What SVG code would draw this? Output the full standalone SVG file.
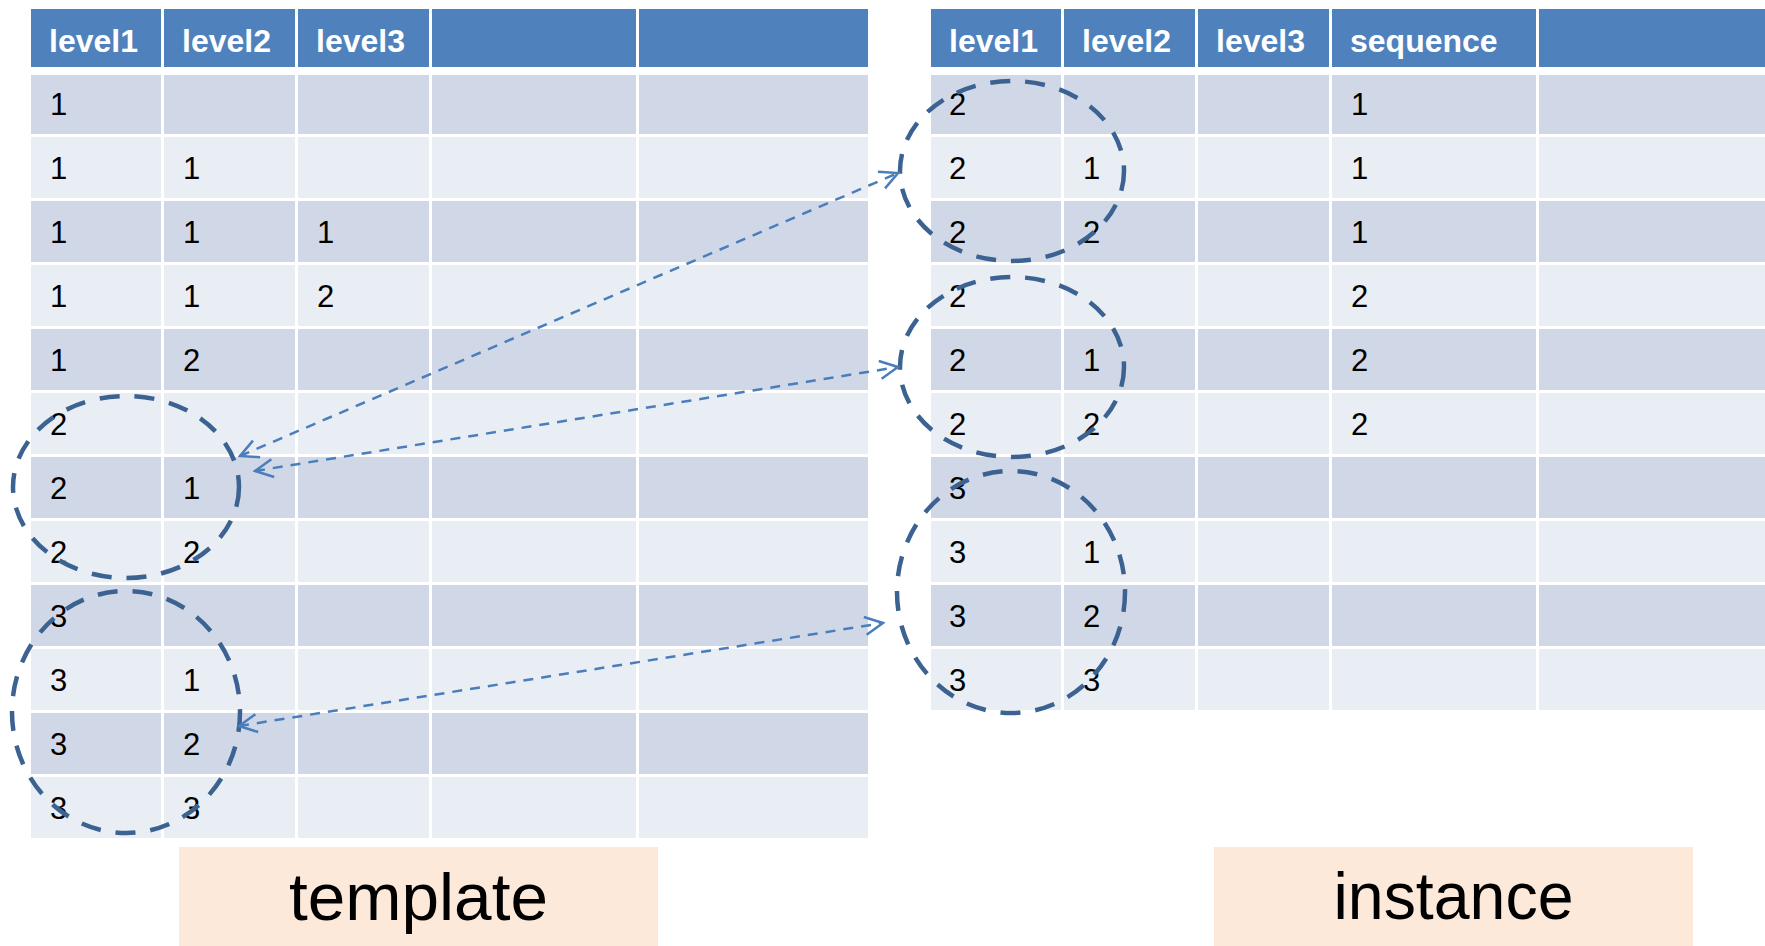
<svg xmlns="http://www.w3.org/2000/svg" width="1765" height="946" viewBox="0 0 1765 946">
<style>
.hd{fill:#4F81BD}
.dk{fill:#D0D8E8}
.lt{fill:#E9EDF4}
.ht{font-family:"Liberation Sans",Arial,sans-serif;font-weight:bold;font-size:32px;fill:#FFFFFF}
.dt{font-family:"Liberation Sans",Arial,sans-serif;font-size:31px;fill:#000000}
.lb{fill:#FDE9D9}
.bt{font-family:"Liberation Sans",Arial,sans-serif;font-size:67px;fill:#000000;text-anchor:middle}
.ring{fill:none;stroke:#3C6291;stroke-width:4.5;stroke-dasharray:20 15}
.arr{fill:none;stroke:#4A7EBB;stroke-width:2.5;stroke-dasharray:10 8;marker-start:url(#ah);marker-end:url(#ah)}
</style>
<defs>
<marker id="ah" markerUnits="userSpaceOnUse" viewBox="0 0 22 22" markerWidth="22" markerHeight="22" refX="20" refY="11" orient="auto-start-reverse">
<path d="M2,2 L20,11 L2,20" fill="none" stroke="#4A7EBB" stroke-width="2.5" stroke-dasharray="none"/>
</marker>
</defs>
<rect width="1765" height="946" fill="#FFFFFF"/>

<g id="template-table">
<g id="template-header">
<rect class="hd" x="31" y="9" width="130" height="58"/>
<rect class="hd" x="164" y="9" width="131" height="58"/>
<rect class="hd" x="298" y="9" width="131" height="58"/>
<rect class="hd" x="432" y="9" width="204" height="58"/>
<rect class="hd" x="639" y="9" width="229" height="58"/>
<text class="ht" x="49" y="52">level1</text>
<text class="ht" x="182" y="52">level2</text>
<text class="ht" x="316" y="52">level3</text>
</g>
<g id="template-rows">
<rect class="dk" x="31" y="75" width="130" height="59"/><rect class="dk" x="164" y="75" width="131" height="59"/><rect class="dk" x="298" y="75" width="131" height="59"/><rect class="dk" x="432" y="75" width="204" height="59"/><rect class="dk" x="639" y="75" width="229" height="59"/>
<rect class="lt" x="31" y="137" width="130" height="61"/><rect class="lt" x="164" y="137" width="131" height="61"/><rect class="lt" x="298" y="137" width="131" height="61"/><rect class="lt" x="432" y="137" width="204" height="61"/><rect class="lt" x="639" y="137" width="229" height="61"/>
<rect class="dk" x="31" y="201" width="130" height="61"/><rect class="dk" x="164" y="201" width="131" height="61"/><rect class="dk" x="298" y="201" width="131" height="61"/><rect class="dk" x="432" y="201" width="204" height="61"/><rect class="dk" x="639" y="201" width="229" height="61"/>
<rect class="lt" x="31" y="265" width="130" height="61"/><rect class="lt" x="164" y="265" width="131" height="61"/><rect class="lt" x="298" y="265" width="131" height="61"/><rect class="lt" x="432" y="265" width="204" height="61"/><rect class="lt" x="639" y="265" width="229" height="61"/>
<rect class="dk" x="31" y="329" width="130" height="61"/><rect class="dk" x="164" y="329" width="131" height="61"/><rect class="dk" x="298" y="329" width="131" height="61"/><rect class="dk" x="432" y="329" width="204" height="61"/><rect class="dk" x="639" y="329" width="229" height="61"/>
<rect class="lt" x="31" y="393" width="130" height="61"/><rect class="lt" x="164" y="393" width="131" height="61"/><rect class="lt" x="298" y="393" width="131" height="61"/><rect class="lt" x="432" y="393" width="204" height="61"/><rect class="lt" x="639" y="393" width="229" height="61"/>
<rect class="dk" x="31" y="457" width="130" height="61"/><rect class="dk" x="164" y="457" width="131" height="61"/><rect class="dk" x="298" y="457" width="131" height="61"/><rect class="dk" x="432" y="457" width="204" height="61"/><rect class="dk" x="639" y="457" width="229" height="61"/>
<rect class="lt" x="31" y="521" width="130" height="61"/><rect class="lt" x="164" y="521" width="131" height="61"/><rect class="lt" x="298" y="521" width="131" height="61"/><rect class="lt" x="432" y="521" width="204" height="61"/><rect class="lt" x="639" y="521" width="229" height="61"/>
<rect class="dk" x="31" y="585" width="130" height="61"/><rect class="dk" x="164" y="585" width="131" height="61"/><rect class="dk" x="298" y="585" width="131" height="61"/><rect class="dk" x="432" y="585" width="204" height="61"/><rect class="dk" x="639" y="585" width="229" height="61"/>
<rect class="lt" x="31" y="649" width="130" height="61"/><rect class="lt" x="164" y="649" width="131" height="61"/><rect class="lt" x="298" y="649" width="131" height="61"/><rect class="lt" x="432" y="649" width="204" height="61"/><rect class="lt" x="639" y="649" width="229" height="61"/>
<rect class="dk" x="31" y="713" width="130" height="61"/><rect class="dk" x="164" y="713" width="131" height="61"/><rect class="dk" x="298" y="713" width="131" height="61"/><rect class="dk" x="432" y="713" width="204" height="61"/><rect class="dk" x="639" y="713" width="229" height="61"/>
<rect class="lt" x="31" y="777" width="130" height="61"/><rect class="lt" x="164" y="777" width="131" height="61"/><rect class="lt" x="298" y="777" width="131" height="61"/><rect class="lt" x="432" y="777" width="204" height="61"/><rect class="lt" x="639" y="777" width="229" height="61"/>
</g>
<g id="template-values">
<text class="dt" x="50" y="115">1</text>
<text class="dt" x="50" y="179">1</text><text class="dt" x="183" y="179">1</text>
<text class="dt" x="50" y="243">1</text><text class="dt" x="183" y="243">1</text><text class="dt" x="317" y="243">1</text>
<text class="dt" x="50" y="307">1</text><text class="dt" x="183" y="307">1</text><text class="dt" x="317" y="307">2</text>
<text class="dt" x="50" y="371">1</text><text class="dt" x="183" y="371">2</text>
<text class="dt" x="50" y="435">2</text>
<text class="dt" x="50" y="499">2</text><text class="dt" x="183" y="499">1</text>
<text class="dt" x="50" y="563">2</text><text class="dt" x="183" y="563">2</text>
<text class="dt" x="50" y="627">3</text>
<text class="dt" x="50" y="691">3</text><text class="dt" x="183" y="691">1</text>
<text class="dt" x="50" y="755">3</text><text class="dt" x="183" y="755">2</text>
<text class="dt" x="50" y="819">3</text><text class="dt" x="183" y="819">3</text>
</g>
</g>

<g id="instance-table">
<g id="instance-header">
<rect class="hd" x="931" y="9" width="130" height="58"/>
<rect class="hd" x="1064" y="9" width="131" height="58"/>
<rect class="hd" x="1198" y="9" width="131" height="58"/>
<rect class="hd" x="1332" y="9" width="204" height="58"/>
<rect class="hd" x="1539" y="9" width="226" height="58"/>
<text class="ht" x="949" y="52">level1</text>
<text class="ht" x="1082" y="52">level2</text>
<text class="ht" x="1216" y="52">level3</text>
<text class="ht" x="1350" y="52">sequence</text>
</g>
<g id="instance-rows">
<rect class="dk" x="931" y="75" width="130" height="59"/><rect class="dk" x="1064" y="75" width="131" height="59"/><rect class="dk" x="1198" y="75" width="131" height="59"/><rect class="dk" x="1332" y="75" width="204" height="59"/><rect class="dk" x="1539" y="75" width="226" height="59"/>
<rect class="lt" x="931" y="137" width="130" height="61"/><rect class="lt" x="1064" y="137" width="131" height="61"/><rect class="lt" x="1198" y="137" width="131" height="61"/><rect class="lt" x="1332" y="137" width="204" height="61"/><rect class="lt" x="1539" y="137" width="226" height="61"/>
<rect class="dk" x="931" y="201" width="130" height="61"/><rect class="dk" x="1064" y="201" width="131" height="61"/><rect class="dk" x="1198" y="201" width="131" height="61"/><rect class="dk" x="1332" y="201" width="204" height="61"/><rect class="dk" x="1539" y="201" width="226" height="61"/>
<rect class="lt" x="931" y="265" width="130" height="61"/><rect class="lt" x="1064" y="265" width="131" height="61"/><rect class="lt" x="1198" y="265" width="131" height="61"/><rect class="lt" x="1332" y="265" width="204" height="61"/><rect class="lt" x="1539" y="265" width="226" height="61"/>
<rect class="dk" x="931" y="329" width="130" height="61"/><rect class="dk" x="1064" y="329" width="131" height="61"/><rect class="dk" x="1198" y="329" width="131" height="61"/><rect class="dk" x="1332" y="329" width="204" height="61"/><rect class="dk" x="1539" y="329" width="226" height="61"/>
<rect class="lt" x="931" y="393" width="130" height="61"/><rect class="lt" x="1064" y="393" width="131" height="61"/><rect class="lt" x="1198" y="393" width="131" height="61"/><rect class="lt" x="1332" y="393" width="204" height="61"/><rect class="lt" x="1539" y="393" width="226" height="61"/>
<rect class="dk" x="931" y="457" width="130" height="61"/><rect class="dk" x="1064" y="457" width="131" height="61"/><rect class="dk" x="1198" y="457" width="131" height="61"/><rect class="dk" x="1332" y="457" width="204" height="61"/><rect class="dk" x="1539" y="457" width="226" height="61"/>
<rect class="lt" x="931" y="521" width="130" height="61"/><rect class="lt" x="1064" y="521" width="131" height="61"/><rect class="lt" x="1198" y="521" width="131" height="61"/><rect class="lt" x="1332" y="521" width="204" height="61"/><rect class="lt" x="1539" y="521" width="226" height="61"/>
<rect class="dk" x="931" y="585" width="130" height="61"/><rect class="dk" x="1064" y="585" width="131" height="61"/><rect class="dk" x="1198" y="585" width="131" height="61"/><rect class="dk" x="1332" y="585" width="204" height="61"/><rect class="dk" x="1539" y="585" width="226" height="61"/>
<rect class="lt" x="931" y="649" width="130" height="61"/><rect class="lt" x="1064" y="649" width="131" height="61"/><rect class="lt" x="1198" y="649" width="131" height="61"/><rect class="lt" x="1332" y="649" width="204" height="61"/><rect class="lt" x="1539" y="649" width="226" height="61"/>
</g>
<g id="instance-values">
<text class="dt" x="949" y="115">2</text><text class="dt" x="1351" y="115">1</text>
<text class="dt" x="949" y="179">2</text><text class="dt" x="1083" y="179">1</text><text class="dt" x="1351" y="179">1</text>
<text class="dt" x="949" y="243">2</text><text class="dt" x="1083" y="243">2</text><text class="dt" x="1351" y="243">1</text>
<text class="dt" x="949" y="307">2</text><text class="dt" x="1351" y="307">2</text>
<text class="dt" x="949" y="371">2</text><text class="dt" x="1083" y="371">1</text><text class="dt" x="1351" y="371">2</text>
<text class="dt" x="949" y="435">2</text><text class="dt" x="1083" y="435">2</text><text class="dt" x="1351" y="435">2</text>
<text class="dt" x="949" y="499">3</text>
<text class="dt" x="949" y="563">3</text><text class="dt" x="1083" y="563">1</text>
<text class="dt" x="949" y="627">3</text><text class="dt" x="1083" y="627">2</text>
<text class="dt" x="949" y="691">3</text><text class="dt" x="1083" y="691">3</text>
</g>
</g>

<g id="groups">
<ellipse id="tpl-group-2" class="ring" cx="126" cy="487" rx="113" ry="91"/>
<ellipse id="tpl-group-3" class="ring" cx="126" cy="712" rx="114" ry="121"/>
<ellipse id="inst-group-2a" class="ring" cx="1012" cy="171" rx="112" ry="90"/>
<ellipse id="inst-group-2b" class="ring" cx="1012" cy="367" rx="112" ry="90"/>
<ellipse id="inst-group-3" class="ring" cx="1011" cy="592" rx="114" ry="121"/>
</g>

<g id="connectors">
<path class="arr" d="M240,456 L898,173"/>
<path class="arr" d="M255,471 L898,367"/>
<path class="arr" d="M239,726 L883,623"/>
</g>

<g id="label-template">
<rect class="lb" x="179" y="847" width="479" height="99"/>
<text class="bt" x="418.5" y="920" textLength="259" lengthAdjust="spacingAndGlyphs">template</text>
</g>
<g id="label-instance">
<rect class="lb" x="1214" y="847" width="479" height="99"/>
<text class="bt" x="1453.5" y="919" textLength="240" lengthAdjust="spacingAndGlyphs">instance</text>
</g>
</svg>
